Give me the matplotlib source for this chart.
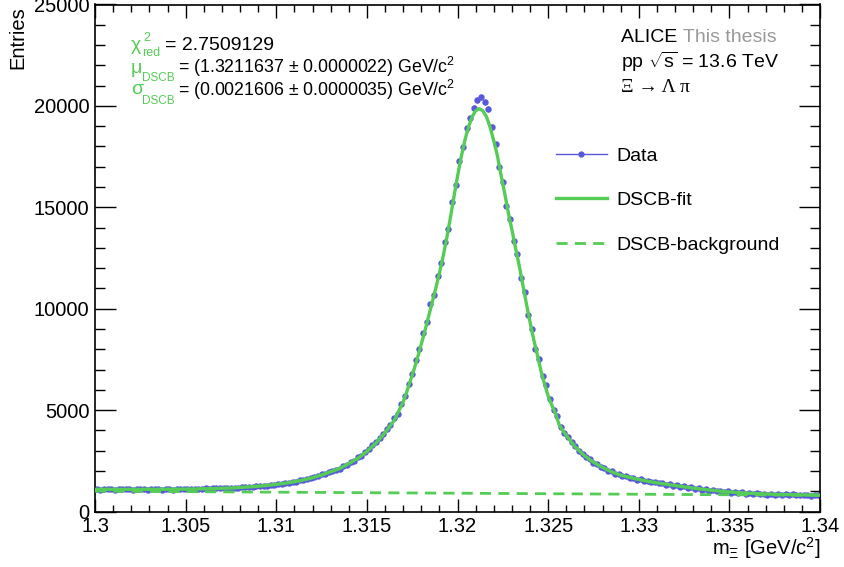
import numpy as np
import matplotlib
matplotlib.use("Agg")
import matplotlib.pyplot as plt
from matplotlib.lines import Line2D
from matplotlib.ticker import MultipleLocator, FuncFormatter

plt.rcParams["font.family"] = ["Liberation Sans", "DejaVu Sans"]
plt.rcParams["mathtext.fontset"] = "custom"
plt.rcParams["mathtext.rm"] = "Liberation Sans"
plt.rcParams["mathtext.it"] = "Liberation Sans"
plt.rcParams["mathtext.default"] = "regular"

# Xi invariant mass histogram: 200 bins between 1.30 and 1.34 GeV/c^2
BIN_LO, BIN_HI, N_BINS = 1.30, 1.34, 200
counts = [
    # 1.3001 - 1.3099
    1110, 1082, 1101, 1089, 1118, 1076, 1097, 1105, 1085, 1099,
    1072, 1108, 1093, 1115, 1080, 1102, 1090, 1121, 1084, 1099,
    1110, 1078, 1106, 1127, 1095, 1112, 1133, 1101, 1124, 1118,
    1142, 1120, 1148, 1135, 1160, 1141, 1172, 1155, 1183, 1168,
    1205, 1190, 1228, 1214, 1255, 1240, 1279, 1268, 1312, 1301,
    # 1.3101 - 1.3159
    1362, 1355, 1410, 1418, 1476, 1470, 1538, 1549, 1622, 1633,
    1712, 1730, 1826, 1850, 1957, 1985, 2071, 2110, 2248, 2297,
    2445, 2498, 2668, 2731, 2935, 3062, 3258, 3405, 3641, 3810,
    # 1.3161 - 1.3211
    4085, 4260, 4610, 4820, 5290, 5700, 6310, 6790, 7480, 8010,
    8790, 9330, 10210, 10700, 11620, 12240, 13310, 13950, 15260, 16120,
    17290, 17980, 18900, 19380, 19920, 20310,
    # 1.3213 - 1.3259
    20420, 20180, 19860, 18950, 18110, 16990, 16260, 15080, 14410, 13320,
    12700, 11520, 10810, 9690, 8990, 8020, 7510, 6690, 6250, 5560,
    5010, 4720, 4190, 3850,
    # 1.3261 - 1.3399
    3690, 3420, 3230, 2990, 2850, 2690, 2590, 2410, 2350, 2190,
    2150, 2020, 1990, 1870, 1830, 1760, 1745, 1660, 1650, 1570,
    1585, 1510, 1515, 1440, 1460, 1390, 1410, 1330, 1350, 1275,
    1300, 1220, 1240, 1170, 1190, 1120, 1150, 1080, 1110, 1035,
    1070, 995, 1030, 960, 990, 930, 970, 905, 940, 880,
    915, 860, 900, 845, 880, 830, 870, 825, 855, 810,
    850, 800, 840, 795, 835, 790, 828, 785, 820, 790,
]

# DSCB fit curve (signal + background)
fit_x = [
    1.3000, 1.3005, 1.3010, 1.3015, 1.3020, 1.3025, 1.3030, 1.3035, 1.3040, 1.3045,
    1.3050, 1.3055, 1.3060, 1.3065, 1.3070, 1.3075, 1.3080, 1.3085, 1.3090, 1.3095,
    1.3100, 1.3105, 1.3110, 1.3115, 1.3120, 1.3125, 1.3130, 1.3135, 1.3140, 1.3145,
    1.3150, 1.3155, 1.3160, 1.3165, 1.3170, 1.3172, 1.3174, 1.3176, 1.3178, 1.3180,
    1.3182, 1.3184, 1.3186, 1.3188, 1.3190, 1.3192, 1.3194, 1.3196, 1.3198, 1.3200,
    1.3202, 1.3204, 1.3206, 1.3208, 1.3210, 1.3212, 1.3214, 1.3216, 1.3218, 1.3220,
    1.3222, 1.3224, 1.3226, 1.3228, 1.3230, 1.3232, 1.3234, 1.3236, 1.3238, 1.3240,
    1.3242, 1.3244, 1.3246, 1.3248, 1.3250, 1.3252, 1.3254, 1.3256, 1.3258, 1.3260,
    1.3265, 1.3270, 1.3275, 1.3280, 1.3285, 1.3290, 1.3295, 1.3300, 1.3305, 1.3310,
    1.3315, 1.3320, 1.3325, 1.3330, 1.3335, 1.3340, 1.3345, 1.3350, 1.3355, 1.3360,
    1.3365, 1.3370, 1.3375, 1.3380, 1.3385, 1.3390, 1.3395, 1.3400,
]
fit_y = [
    1095, 1095, 1094, 1094, 1094, 1094, 1095, 1096, 1098, 1101,
    1105, 1111, 1119, 1130, 1144, 1162, 1185, 1213, 1247, 1288,
    1337, 1396, 1468, 1556, 1664, 1797, 1962, 2120, 2360, 2620,
    2960, 3380, 3880, 4480, 5400, 5900, 6450, 7000, 7600, 8250,
    8900, 9600, 10300, 11000, 11750, 12550, 13450, 14450, 15500, 16520,
    17460, 18280, 18950, 19450, 19760, 19860, 19760, 19460, 18950, 18280,
    17550, 16600, 15700, 14750, 13900, 13000, 12150, 11200, 10250, 9350,
    8500, 7750, 6950, 6300, 5700, 5250, 4850, 4300, 4000, 3750,
    3180, 2760, 2430, 2170, 1960, 1790, 1680, 1580, 1490, 1415,
    1345, 1280, 1215, 1155, 1100, 1050, 1005, 965, 932, 905,
    883, 865, 850, 838, 828, 820, 813, 808,
]

# background component of the fit
bkg_x = [1.300, 1.310, 1.320, 1.330, 1.340]
bkg_y = [1005, 953, 902, 851, 800]

BLUE = "#5858dc"
GREEN = "#55cc55"
DASH = (0, (4, 2.6))

fig = plt.figure(figsize=(8.44, 5.67), dpi=100)
W, H = 844, 567
ax = fig.add_axes([95 / W, 1 - 511.5 / H, (820 - 95) / W, (511.5 - 4.5) / H])

edges = np.linspace(BIN_LO, BIN_HI, N_BINS + 1)
centers = 0.5 * (edges[:-1] + edges[1:])
counts = np.array(counts, dtype=float)

ax.errorbar(centers, counts, yerr=np.sqrt(counts), fmt="o", color=BLUE,
            markersize=3.6, elinewidth=1.0, capsize=0, zorder=2)
ax.plot(fit_x, fit_y, color=GREEN, lw=2.4, zorder=3)
ax.plot(bkg_x, bkg_y, color=GREEN, lw=2.0, ls=DASH, zorder=3)

ax.set_xlim(BIN_LO, BIN_HI)
ax.set_ylim(0, 25000)
ax.xaxis.set_major_locator(MultipleLocator(0.005))
ax.xaxis.set_minor_locator(MultipleLocator(0.001))
ax.yaxis.set_major_locator(MultipleLocator(5000))
ax.yaxis.set_minor_locator(MultipleLocator(1000))
ax.xaxis.set_major_formatter(FuncFormatter(lambda v, p: f"{v:g}"))
ax.yaxis.set_major_formatter(FuncFormatter(lambda v, p: f"{v:.0f}"))

ax.tick_params(axis="both", which="both", direction="in", top=True, right=True,
               labelsize=14.5, width=1.0, colors="black")
ax.tick_params(axis="x", which="major", length=9.5, pad=4)
ax.tick_params(axis="x", which="minor", length=5)
ax.tick_params(axis="y", which="major", length=15, pad=4)
ax.tick_params(axis="y", which="minor", length=7.5)
for s in ax.spines.values():
    s.set_linewidth(1.2)


def px(x, y):
    return x / W, 1 - y / H


fig.text(*px(18, 6), "Entries", rotation=90, ha="center", va="top", fontsize=14.5)
fig.text(*px(821, 548), r"m$_{\Xi}$ [GeV/c$^{2}$]", ha="right", va="center", fontsize=14.5)

# fit results: symbol, small sub/superscripts, then the value
fs = 14
fig.text(*px(131, 46), "χ", color=GREEN, ha="left", va="center", fontsize=fs)
fig.text(*px(143, 38), "2", color=GREEN, ha="left", va="center", fontsize=9)
fig.text(*px(142, 53), "red", color=GREEN, ha="left", va="center", fontsize=9)
fig.text(*px(165, 45), "= 2.7509129", ha="left", va="center", fontsize=fs)

fig.text(*px(131, 69), "μ", color=GREEN, ha="left", va="center", fontsize=fs)
fig.text(*px(142, 78), "DSCB", color=GREEN, ha="left", va="center", fontsize=8.5)
fig.text(*px(178, 67), r"= (1.3211637 $\pm$ 0.0000022) GeV/c$^{2}$", ha="left", va="center", fontsize=12.8)

fig.text(*px(131, 90), "σ", color=GREEN, ha="left", va="center", fontsize=fs)
fig.text(*px(142, 101), "DSCB", color=GREEN, ha="left", va="center", fontsize=8.5)
fig.text(*px(178, 90), r"= (0.0021606 $\pm$ 0.0000035) GeV/c$^{2}$", ha="left", va="center", fontsize=12.8)

# experiment labels
t = fig.text(*px(621, 37), "ALICE ", ha="left", va="center", fontsize=fs)
fig.canvas.draw()
bb = t.get_window_extent()
fig.text(bb.x1 / W, 1 - 37 / H, "This thesis", color="#999999", ha="left", va="center", fontsize=fs)
fig.text(*px(621, 62), r"pp $\sqrt{s}$ = 13.6 TeV", ha="left", va="center", fontsize=fs)
fig.text(*px(621, 88), "Ξ → Λ π", ha="left", va="center", fontsize=fs,
         family=["Liberation Serif", "DejaVu Serif"])

handles = [
    Line2D([], [], color=BLUE, lw=1.0, marker="o", markersize=3.5),
    Line2D([], [], color=GREEN, lw=2.4),
    Line2D([], [], color=GREEN, lw=2.0, ls=DASH),
]
ax.legend(handles, ["Data", "DSCB-fit", "DSCB-background"], loc="upper left",
          bbox_to_anchor=((556 - 95) / 725, 1 - (147 - 4.5) / 507), frameon=False,
          fontsize=fs, handlelength=2.6, handletextpad=0.5, labelspacing=1.38,
          borderaxespad=0, borderpad=0)

fig.savefig("out.png", dpi=100)
